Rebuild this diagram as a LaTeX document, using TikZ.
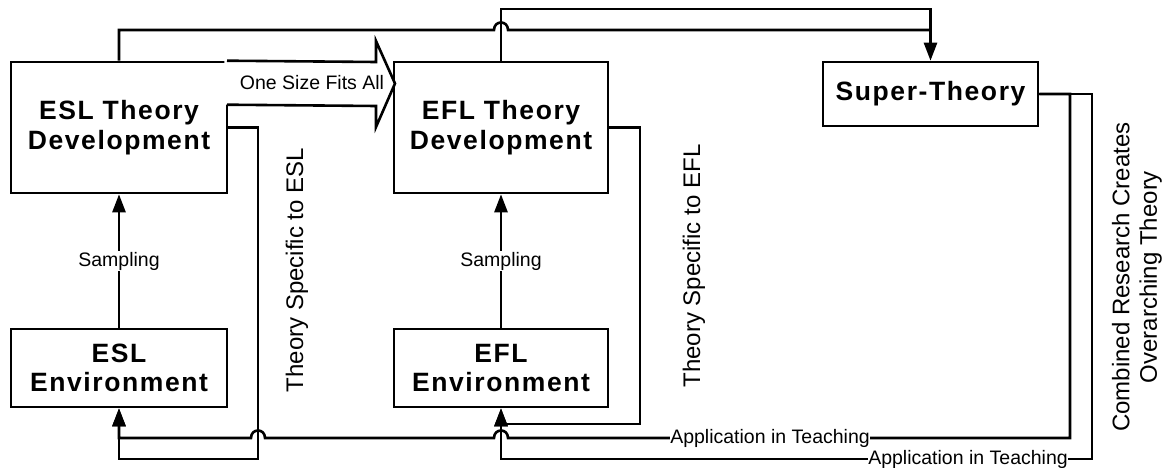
\documentclass[tikz,border=0pt]{standalone}
\usepackage{fontspec}
\setmainfont{Liberation Sans}
\newfontfamily\boxfont{Liberation Sans}[LetterSpace=6]
\usetikzlibrary{arrows.meta,calc}
\begin{document}
\begin{tikzpicture}[x=1pt,y=-1pt, line width=2.6pt, line join=miter,
  box/.style={draw, line width=2.6pt, inner sep=0pt, align=center,
    font=\boxfont\bfseries\fontsize{26.5}{29.5}\selectfont},
  lbl/.style={font=\fontsize{19.5}{22}\selectfont, fill=white, inner sep=0.5pt},
  rlbl/.style={font=\fontsize{24}{27.5}\selectfont, rotate=90, align=center, inner sep=0pt},
  arr/.style={-{Triangle[length=18pt,width=13pt]}}]
\useasboundingbox (0,0) rectangle (1168,468);

% boxes
\node[box, minimum width=216pt, minimum height=131pt] (esl) at (119,127.5) {ESL Theory\\Development};
\node[box, minimum width=216pt, minimum height=78pt] (eslenv) at (119,368) {ESL\\Environment};
\node[box, minimum width=214pt, minimum height=131pt] (efl) at (501,127.5) {EFL Theory\\Development};
\node[box, minimum width=214pt, minimum height=78pt] (eflenv) at (501,368) {EFL\\Environment};
\node[box, minimum width=215pt, minimum height=64pt] (super) at (930.5,94) {Super-Theory};

% helper levels
\coordinate (yTop) at (0,9);
\coordinate (yMid) at (0,30);
\coordinate (yA) at (0,424);
\coordinate (yB) at (0,438);
\coordinate (yC) at (0,459);
\coordinate (xS1) at (258,0);
\coordinate (xS2) at (640,0);
\coordinate (xR1) at (1070,0);
\coordinate (xR2) at (1092,0);

% block arrow "One Size Fits All"
\fill[white] ($(esl.north east)+(-4,0)$) -- ++(153,0) -- ++(0,-21) -- (395,83.5) -- (376,127) -- (376,106) -- ($(esl.north east)+(-4,44)$) -- cycle;
\draw ($(esl.north east)+(-1.3,0)$) -- (376,62) -- (376,41) -- (395,83.5) -- (376,127) -- (376,106) -- ($(esl.north east)+(-1.3,44)$);
\node[font=\fontsize{19.5}{22}\selectfont, inner sep=0pt] (osfa) at (312,82.5) {One Size Fits All};

% sampling arrows
\draw[arr] (eslenv.north) -- (esl.south) node[lbl, midway] (samp1) {Sampling};
\draw[arr] (eflenv.north) -- (efl.south) node[lbl, midway] (samp2) {Sampling};

% top connectors to Super-Theory
\draw (efl.north) -- (efl.north |- yTop) -- (super.north |- yTop) -- (super.north |- yMid);
\draw[arr] (esl.north) -- (esl.north |- yMid)
  -- ($(efl.north |- yMid)+(-7,0)$) .. controls +(0,-10) and +(0,-10) .. ($(efl.north |- yMid)+(7,0)$)
  -- (super.north |- yMid) -- (super.north);

% theory specific loops
\draw[arr] (esl.east) -- (xS1 |- esl.east) -- (xS1 |- yC) -- (eslenv.south |- yC) -- (eslenv.south);
\draw[arr] (efl.east) -- (xS2 |- efl.east) -- (xS2 |- yA) -- (eflenv.south |- yA) -- (eflenv.south);

% application in teaching
\draw[arr] (super.east) -- (xR2 |- super.east) -- (xR2 |- yC) -- (eflenv.south |- yC) -- (eflenv.south);
\draw[arr] (super.east) -- (xR1 |- super.east) -- (xR1 |- yB)
  -- ($(eflenv.south |- yB)+(7,0)$) .. controls +(0,-10) and +(0,-10) .. ($(eflenv.south |- yB)+(-7,0)$)
  -- ($(xS1 |- yB)+(7,0)$) .. controls +(0,-10) and +(0,-10) .. ($(xS1 |- yB)+(-7,0)$)
  -- (eslenv.south |- yB) -- (eslenv.south);
\node[lbl] (app1) at (770,438) {Application in Teaching};
\node[lbl] (app2) at (968,459) {Application in Teaching};

% rotated labels
\node[rlbl] (ts1) at (297,270) {Theory Specific to ESL};
\node[rlbl] (ts2) at (694,266) {Theory Specific to EFL};
\node[rlbl] (comb) at (1137,277) {Combined Research Creates\\Overarching Theory};
\end{tikzpicture}
\end{document}
